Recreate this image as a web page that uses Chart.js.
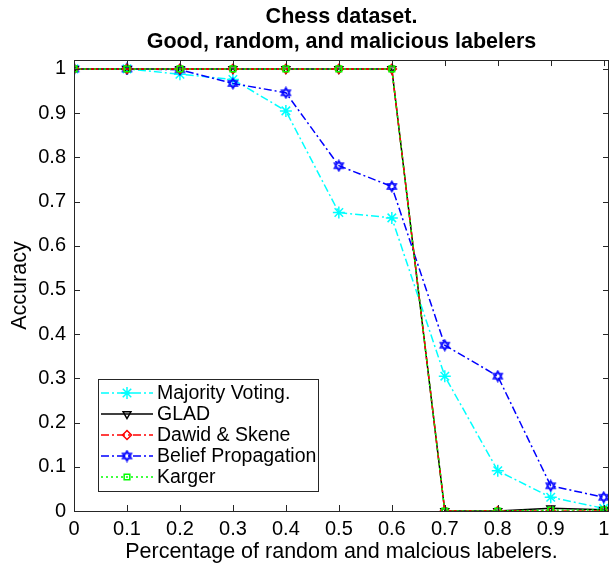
<!DOCTYPE html>
<html>
<head>
<meta charset="utf-8">
<script src="https://cdn.jsdelivr.net/npm/chart.js@4.4.0/dist/chart.umd.min.js"></script>
<style>
  html, body { margin: 0; padding: 0; background: #fff; }
  #wrap { width: 610px; height: 566px; }
</style>
</head>
<body>
<div id="wrap"><canvas id="chess-chart" width="610" height="566"></canvas></div>
<script>
    "use strict";

    // Data
    var fractions = [0, 0.1, 0.2, 0.3, 0.4, 0.5, 0.6, 0.7, 0.8, 0.9, 1];
    var majorityVoting = [1, 1, 0.988, 0.976, 0.905, 0.675, 0.663, 0.305, 0.091, 0.031, 0.006];
    var glad = [1, 1, 1, 1, 1, 1, 1, 0, 0, 0.006, 0.003];
    var dawidSkene = [1, 1, 1, 1, 1, 1, 1, 0, 0, 0, 0];
    var beliefProp = [1, 1, 0.998, 0.967, 0.946, 0.781, 0.734, 0.375, 0.305, 0.057, 0.031];
    var karger = [1, 1, 1, 1, 1, 1, 1, 0, 0, 0.002, 0.002];
    var xTicks = [0, 0.1, 0.2, 0.3, 0.4, 0.5, 0.6, 0.7, 0.8, 0.9, 1];
    var yTicks = [0, 0.1, 0.2, 0.3, 0.4, 0.5, 0.6, 0.7, 0.8, 0.9, 1];

    var FONT = "Arial, 'Liberation Sans', Helvetica, sans-serif";
    var AXIS = "#262626";
    var NONE = "rgba(0,0,0,0)";

    function pts(ys) {
        return fractions.map(function (x, i) { return {x: x, y: ys[i]}; });
    }

    // six pointed star (hexagram) marker
    function hexagram(color) {
        var c = document.createElement("canvas");
        c.width = 13; c.height = 13;
        var g = c.getContext("2d");
        g.strokeStyle = color;
        g.lineWidth = 1.4;
        var r = 5.2, cx = 6.5, cy = 6.5;
        [-90, 90].forEach(function (start) {
            g.beginPath();
            for (var k = 0; k < 3; k++) {
                var a = (start + k * 120) * Math.PI / 180;
                var px = cx + r * Math.cos(a), py = cy + r * Math.sin(a);
                if (k === 0) g.moveTo(px, py); else g.lineTo(px, py);
            }
            g.closePath();
            g.stroke();
        });
        return c;
    }

    var dashDot = [8, 3, 2, 3];
    var datasets = [
        {
            label: "Majority Voting.", data: pts(majorityVoting),
            borderColor: "#00ffff", borderDash: dashDot, pointStyle: "star",
            pointRadius: 6, order: 4
        },
        {
            label: "GLAD", data: pts(glad),
            borderColor: "#000000", borderDash: [], pointStyle: "triangle", rotation: 180,
            pointRadius: 4.5, order: 2
        },
        {
            label: "Dawid & Skene", data: pts(dawidSkene),
            borderColor: "#ff0000", borderDash: dashDot, pointStyle: "rectRot",
            pointRadius: 4.5, order: 1
        },
        {
            label: "Belief Propagation", data: pts(beliefProp),
            borderColor: "#0000ff", borderDash: dashDot, pointStyle: hexagram("#0000ff"),
            pointRadius: 5, order: 3
        },
        {
            label: "Karger", data: pts(karger),
            borderColor: "#00ff00", borderDash: [2, 3], pointStyle: "rect",
            pointRadius: 4, order: 0
        }
    ];
    datasets.forEach(function (d) {
        d.borderWidth = 1.5;
        d.backgroundColor = NONE;
        d.pointBorderColor = d.borderColor;
        d.pointBackgroundColor = NONE;
        d.pointBorderWidth = 1.5;
        d.fill = false;
        d.tension = 0;
    });

    // Box and inward tick marks, MATLAB style
    var boxPlugin = {
        id: "box",
        afterDatasetsDraw: function (chart) {
            var ctx = chart.ctx, a = chart.chartArea;
            var xs = chart.scales.x, ys = chart.scales.y, len = 6;
            ctx.save();
            ctx.strokeStyle = AXIS;
            ctx.lineWidth = 1;
            ctx.beginPath();
            xTicks.forEach(function (v) {
                var px = Math.round(xs.getPixelForValue(v)) + 0.5;
                ctx.moveTo(px, a.bottom); ctx.lineTo(px, a.bottom - len);
                ctx.moveTo(px, a.top); ctx.lineTo(px, a.top + len);
            });
            yTicks.forEach(function (v) {
                var py = Math.round(ys.getPixelForValue(v)) + 0.5;
                ctx.moveTo(a.left, py); ctx.lineTo(a.left + len, py);
                ctx.moveTo(a.right, py); ctx.lineTo(a.right - len, py);
            });
            ctx.stroke();
            ctx.strokeRect(Math.round(a.left) + 0.5, Math.round(a.top) + 0.5,
                Math.round(a.right - a.left) - 1, Math.round(a.bottom - a.top));
            ctx.restore();
        }
    };

    // Legend box inside the axes, lower left
    var legendPlugin = {
        id: "innerLegend",
        afterDraw: function (chart) {
            var ctx = chart.ctx;
            var bx = 98.5, by = 379.5, bw = 220, bh = 112;
            ctx.save();
            ctx.fillStyle = "#fff";
            ctx.fillRect(bx, by, bw, bh);
            ctx.strokeStyle = AXIS;
            ctx.lineWidth = 1;
            ctx.strokeRect(bx, by, bw, bh);
            ctx.font = "19.5px " + FONT;
            ctx.textBaseline = "middle";
            datasets.forEach(function (d, i) {
                var cy = 393 + i * 21;
                ctx.strokeStyle = d.borderColor;
                ctx.lineWidth = 1.5;
                ctx.setLineDash(d.borderDash);
                ctx.beginPath();
                ctx.moveTo(101, cy); ctx.lineTo(153, cy);
                ctx.stroke();
                ctx.setLineDash([]);
                ctx.fillStyle = NONE;
                Chart.helpers.drawPoint(ctx, {
                    pointStyle: d.pointStyle, radius: d.pointRadius,
                    rotation: d.rotation || 0, borderWidth: 1.5
                }, 127, cy);
                ctx.fillStyle = "#000";
                ctx.fillText(d.label, 157, cy + 1);
            });
            ctx.restore();
        }
    };

    var ctx1 = document.getElementById("chess-chart").getContext("2d");
    var chessChart = new Chart(ctx1, {
        type: "line",
        data: {datasets: datasets},
        plugins: [boxPlugin, legendPlugin],
        options: {
            responsive: false,
            animation: false,
            devicePixelRatio: 1,
            layout: {autoPadding: false, padding: {left: 0, right: 1, top: 0, bottom: 0}},
            plugins: {
                legend: {display: false},
                tooltip: {enabled: false},
                title: {
                    display: true,
                    fullSize: false,
                    text: ["Chess dataset.", "Good, random, and malicious labelers"],
                    color: "#000",
                    font: {family: FONT, size: 21.5, weight: "bold", lineHeight: 1.18},
                    padding: {top: 4, bottom: 5.3}
                }
            },
            scales: {
                x: {
                    type: "linear", min: 0, max: 1.01,
                    afterBuildTicks: function (s) { s.ticks = xTicks.map(function (v) { return {value: v}; }); },
                    afterFit: function (s) { s.height = 55; s.paddingLeft = 0; s.paddingRight = 0; },
                    grid: {drawOnChartArea: false, drawTicks: false},
                    border: {display: false},
                    ticks: {
                        color: "#000", padding: 6, maxRotation: 0, autoSkip: false,
                        font: {family: FONT, size: 20},
                        callback: function (v) { return String(Math.round(v * 10) / 10); }
                    },
                    title: {
                        display: true, text: "Percentage of random and malcious labelers.",
                        color: "#000", font: {family: FONT, size: 21.5},
                        padding: {top: 0, bottom: 1}
                    }
                },
                y: {
                    type: "linear", min: 0, max: 1.02,
                    afterBuildTicks: function (s) { s.ticks = yTicks.map(function (v) { return {value: v}; }); },
                    afterFit: function (s) { s.width = 74; s.paddingTop = 0; s.paddingBottom = 0; },
                    grid: {drawOnChartArea: false, drawTicks: false},
                    border: {display: false},
                    ticks: {
                        color: "#000", padding: 8, autoSkip: false,
                        font: {family: FONT, size: 20},
                        callback: function (v) { return String(Math.round(v * 10) / 10); }
                    },
                    title: {
                        display: true, text: "Accuracy",
                        color: "#000", font: {family: FONT, size: 21.5},
                        padding: {top: 7, bottom: 0}
                    }
                }
            }
        }
    });
</script>
</body>
</html>
